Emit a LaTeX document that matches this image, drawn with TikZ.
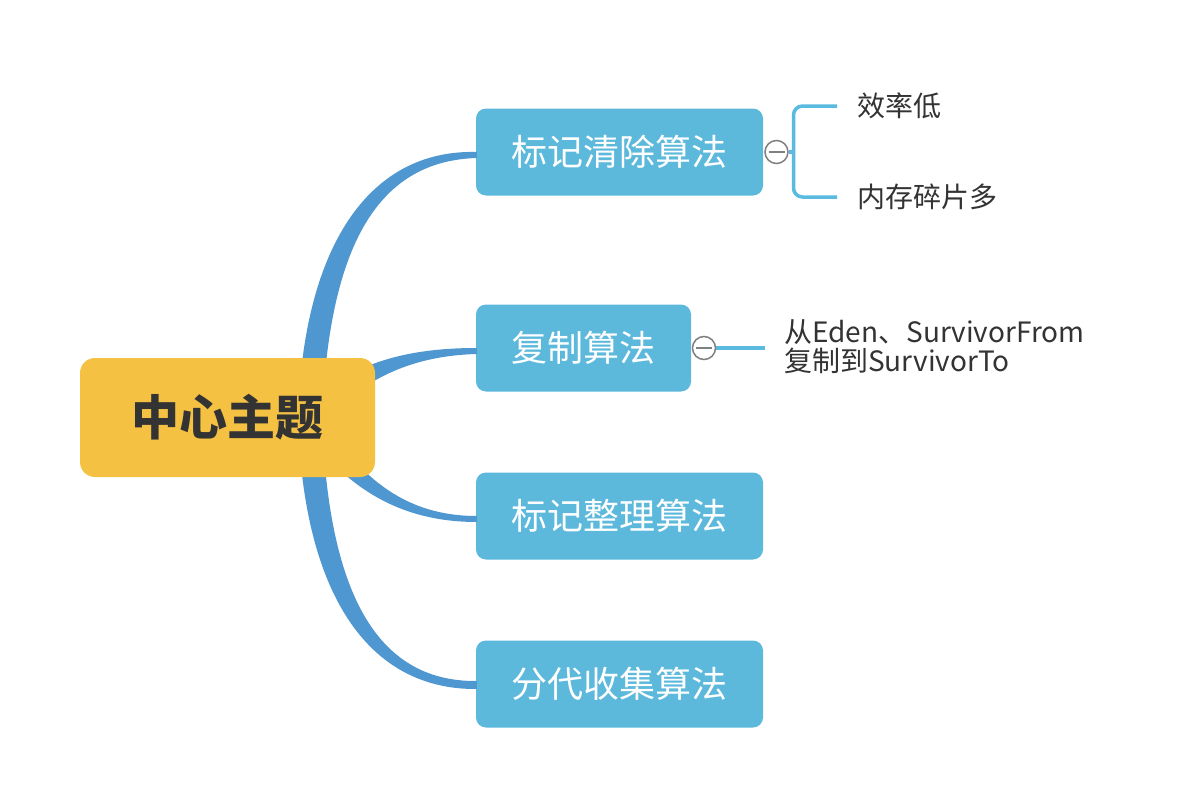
\documentclass[tikz,border=0pt]{standalone}
\usepackage{fontspec}
\setmainfont{Noto Sans CJK SC}
\usetikzlibrary{calc}
\definecolor{topicY}{HTML}{F4C142}
\definecolor{childB}{HTML}{5CB9DC}
\definecolor{branchB}{HTML}{4E97D1}
\definecolor{subB}{HTML}{5ABAE0}
\definecolor{txt}{HTML}{333333}
\definecolor{ring}{HTML}{808080}
\begin{document}
\begin{tikzpicture}[x=1pt,y=-1pt,
  central/.style={fill=topicY, rounded corners=15pt, minimum width=295pt, minimum height=119pt, inner sep=0pt,
    text=txt, font=\fontsize{48}{54}\selectfont\bfseries},
  child/.style={fill=childB, rounded corners=10pt, minimum height=87pt, inner sep=0pt,
    text=white, font=\fontsize{36}{42}\selectfont},
  br/.style={fill=branchB},
  sub/.style={draw=subB, line width=3.5pt},
  leaf/.style={anchor=west, inner sep=0pt, text=txt, font=\fontsize{28}{32}\selectfont},
  collapse/.style={circle, draw=ring, fill=white, line width=1.5pt, minimum size=23pt, inner sep=0pt},
  minus/.style={draw=ring, line width=1.5pt}]
\useasboundingbox (0,0) rectangle (1184,808);
\fill[white] (0,0) rectangle (1184,808);

% child nodes
\node[child, minimum width=287pt] (b1) at (619.5,152) {标记清除算法};
\node[child, minimum width=215pt] (b2) at (583.5,348) {复制算法};
\node[child, minimum width=287pt] (b3) at (619.5,516) {标记整理算法};
\node[child, minimum width=287pt] (b4) at (619.5,684) {分代收集算法};

% tapered branches
\coordinate (o) at (310,418);
\fill[br] ($(o)+(-12,0)$) .. controls (303,248) and (368,149) .. ($(b1.west)+(1,0)$)
   -- ($(b1.west)+(1,6)$) .. controls (374,161) and (329,252) .. ($(o)+(12,0)$) -- cycle;
\fill[br] ($(o)+(-6,-10)$) .. controls (347,366) and (400,348) .. ($(b2.west)+(1,0)$)
   -- ($(b2.west)+(1,6)$) .. controls (402,356) and (355,386) .. ($(o)+(8,10)$) -- cycle;
\fill[br] ($(o)+(8,-8)$) .. controls (356,474) and (402,516) .. ($(b3.west)+(1,0)$)
   -- ($(b3.west)+(1,6)$) .. controls (398,522) and (344,486) .. ($(o)+(-8,8)$) -- cycle;
\fill[br] ($(o)+(-12,0)$) .. controls (303,592) and (367,690) .. ($(b4.west)+(1,5)$)
   -- ($(b4.west)+(1,-3)$) .. controls (374,682) and (328,588) .. ($(o)+(12,0)$) -- cycle;

% central topic
\node[central] (c) at (227.5,417.5) {中心主题};

% sub topics of b1
\node[leaf] (l1) at (857,106) {效率低};
\node[leaf] (l2) at (857,197) {内存碎片多};
\node[collapse] (m1) at (776.5,152) {};
\coordinate (j1) at (793.5,152);
\draw[sub] (m1.east) -- (j1);
\draw[sub, rounded corners=9pt] ($(l1.west)+(-20,0)$) -| (j1) |- ($(l2.west)+(-20,0)$);
\draw[minus] ($(m1.center)+(-8,0)$) -- ($(m1.center)+(8,0)$);

% sub topic of b2
\node[leaf, align=left] (l3) at (784,347) {从Eden、SurvivorFrom\\[-3pt]复制到SurvivorTo};
\node[collapse] (m2) at (704,348) {};
\draw[sub] (m2.east) -- ($(l3.west)+(-19,1)$);
\draw[minus] ($(m2.center)+(-8,0)$) -- ($(m2.center)+(8,0)$);
\end{tikzpicture}
\end{document}
